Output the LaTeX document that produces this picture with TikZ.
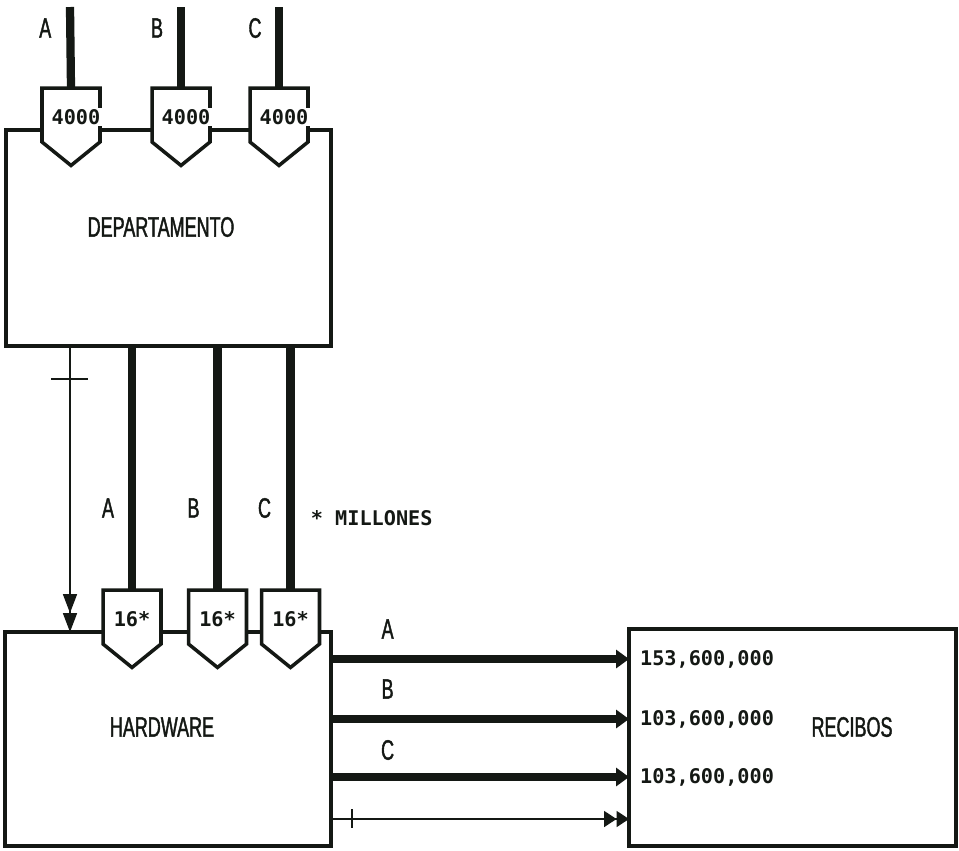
\documentclass[tikz,border=0pt]{standalone}
\usepackage{fontspec}
\setmainfont{Liberation Sans}[FakeStretch=0.64, FakeBold=1.4]
\newfontfamily\qtyfont{DejaVu Sans Mono}
\usepackage{tikz}
\usetikzlibrary{positioning, arrows.meta, shapes.symbols, calc}
\definecolor{inkdark}{RGB}{20, 24, 20}
\tikzset{
  block/.style={draw=inkdark, line width=2pt, inner sep=0pt, outer sep=0pt},
  pod/.style={
    signal, signal to=south, signal pointer angle=102,
    draw=inkdark, fill=white, line width=2pt,
    minimum width=1.16cm, minimum height=1.08cm,
    inner sep=0pt, outer sep=0pt,
  },
  bus/.style={draw=inkdark, line width=4.7pt},
  busA/.style={bus, -{Triangle[length=0.26cm, width=0.36cm]}},
  sigV/.style={draw=inkdark, line width=1pt,
    -{Triangle[length=0.38cm, width=0.28cm] Triangle[length=0.38cm, width=0.28cm]}},
  sigH/.style={draw=inkdark, line width=1pt,
    -{Triangle[length=0.25cm, width=0.32cm] Triangle[length=0.25cm, width=0.32cm]}},
  tick/.style={draw=inkdark, line width=1pt},
  lbl/.style={font=\fontsize{16pt}{18pt}\selectfont, text=inkdark, inner sep=0pt},
  qty/.style={font=\qtyfont\bfseries\fontsize{11.5pt}{13pt}\selectfont, text=inkdark, inner sep=1pt},
}

\begin{document}
\begin{tikzpicture}[x=0.02cm, y=-0.02cm]
\useasboundingbox (0,0) rectangle (959,850);

% bloques
\node[block, minimum width=6.5cm, minimum height=4.32cm] (dept) at (168.5,238) {};
\node[block, minimum width=6.52cm, minimum height=4.28cm] (hw) at (168,739) {};
\node[block, minimum width=6.54cm, minimum height=4.34cm] (rec) at (792.5,737.5) {};

\node[lbl] (deptT) at (161,227) {DEPARTAMENTO};
\node[lbl] (hwT) at (162,727) {HARDWARE};
\node[lbl] (recT) at (852,727) {RECIBOS};

% puertos de entrada
\node[pod, anchor=north] (dA) at (71,88) {};
\node[pod, anchor=north] (dB) at (181,88) {};
\node[pod, anchor=north] (dC) at (279,88) {};
\node[pod, anchor=north] (hA) at (132,590) {};
\node[pod, anchor=north] (hB) at (217.5,590) {};
\node[pod, anchor=north] (hC) at (290.5,590) {};

\node[qty, fill=white] (dAq) at ([xshift=0.1cm, yshift=-0.58cm]dA.north) {4000};
\node[qty, fill=white] (dBq) at ([xshift=0.1cm, yshift=-0.58cm]dB.north) {4000};
\node[qty, fill=white] (dCq) at ([xshift=0.1cm, yshift=-0.58cm]dC.north) {4000};
\node[qty] (hAq) at ([yshift=-0.58cm]hA.north) {16*};
\node[qty] (hBq) at ([yshift=-0.58cm]hB.north) {16*};
\node[qty] (hCq) at ([yshift=-0.58cm]hC.north) {16*};

\coordinate (inA) at (70,7);
\coordinate (inB) at (181,7);
\coordinate (inC) at (279,7);
\draw[bus] (inA) -- (dA.north) node[lbl, pos=0.26, xshift=-0.5cm] (inAT) {A};
\draw[bus] (inB) -- (dB.north) node[lbl, pos=0.26, xshift=-0.48cm] (inBT) {B};
\draw[bus] (inC) -- (dC.north) node[lbl, pos=0.26, xshift=-0.48cm] (inCT) {C};

\draw[bus] (hA.north |- dept.south) -- (hA.north) node[lbl, pos=0.664, xshift=-0.48cm] (hAT) {A};
\draw[bus] (hB.north |- dept.south) -- (hB.north) node[lbl, pos=0.664, xshift=-0.48cm] (hBT) {B};
\draw[bus] (hC.north |- dept.south) -- (hC.north) node[lbl, pos=0.664, xshift=-0.52cm] (hCT) {C}
  node[qty, pos=0.705, anchor=west, xshift=0.29cm] (mill) {* MILLONES};

% control
\coordinate (clk) at (70,0);
\draw[sigV] (dept.south -| clk) -- (hw.north -| clk);
\draw[tick] ($(dept.south -| clk) + (-19,33)$) -- ++(37,0);

% salidas
\node[qty, anchor=west] (n1) at (638,659) {153,600,000};
\node[qty, anchor=west] (n2) at (638,719) {103,600,000};
\node[qty, anchor=west] (n3) at (638,777) {103,600,000};

\draw[busA] (hw.east |- n1) -- (rec.west |- n1) node[lbl, pos=0.19, yshift=0.6cm] (oAT) {A};
\draw[busA] (hw.east |- n2) -- (rec.west |- n2) node[lbl, pos=0.19, yshift=0.6cm] (oBT) {B};
\draw[busA] (hw.east |- n3) -- (rec.west |- n3) node[lbl, pos=0.19, yshift=0.54cm] (oCT) {C};

\coordinate (ack) at (0,819);
\draw[sigH] (hw.east |- ack) -- (rec.west |- ack);
\draw[tick] ($(hw.east |- ack) + (21,-10)$) -- ++(0,19);

\end{tikzpicture}
\end{document}
